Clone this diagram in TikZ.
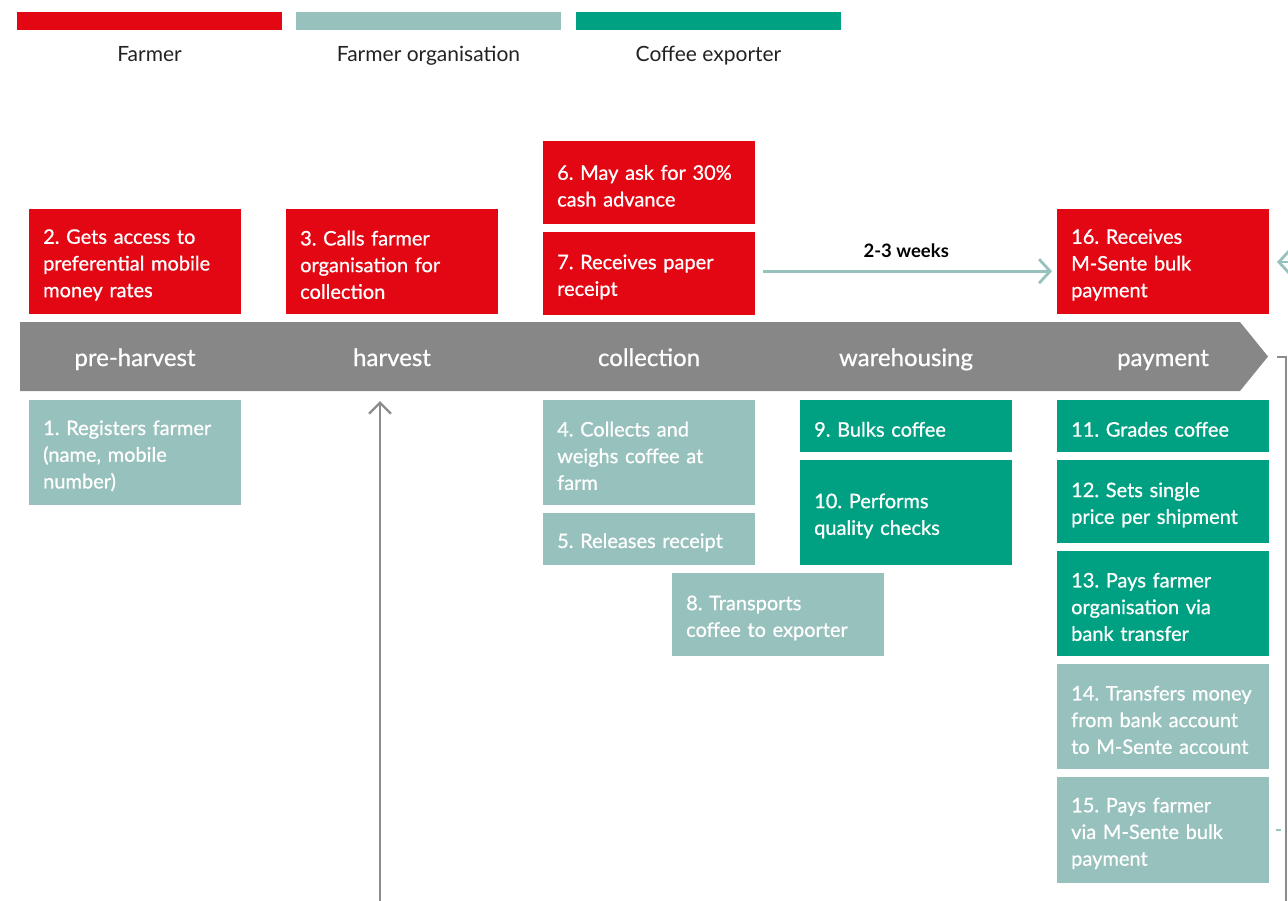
\documentclass[tikz,border=0pt]{standalone}
\usepackage{fontspec}
\setmainfont{Lato}
\newfontfamily\mediumfam{Lato}[FakeBold=0.8]
\usetikzlibrary{arrows.meta}

\definecolor{farmerred}{HTML}{E30613}
\definecolor{orgteal}{HTML}{96C1BC}
\definecolor{expgreen}{HTML}{00A182}
\definecolor{bandgrey}{HTML}{878787}
\definecolor{linegrey}{HTML}{8C8C8C}
\definecolor{legendtext}{HTML}{222222}

\newcommand\boxfont{\mediumfam\fontsize{20}{26.7}\selectfont\frenchspacing}

\tikzset{
  legbar/.style={anchor=north west, minimum width=265, minimum height=18, inner sep=0, draw=none},
  legtext/.style={anchor=base, font=\fontsize{21}{23}\selectfont, text=legendtext, inner sep=0},
  stage/.style={anchor=base, font=\mediumfam\fontsize{24}{26}\selectfont, text=white, inner sep=0},
  stepbox/.style={anchor=north west, minimum width=212, minimum height=#1,
    text width=184, inner xsep=14, inner ysep=0, align=left, text=white, font=\boxfont,
    text height=21pt},
  farmerbox/.style={stepbox=#1, fill=farmerred},
  orgbox/.style={stepbox=#1, fill=orgteal},
  expbox/.style={stepbox=#1, fill=expgreen},
  tealarrow/.style={draw=orgteal, line width=2.8pt,
    -{Straight Barb[length=11pt, width=24pt, line width=2.8pt]}},
  greyarrow/.style={draw=linegrey, line width=2.4pt,
    -{Straight Barb[length=11pt, width=22pt, line width=2.4pt]}},
  greyline/.style={draw=linegrey, line width=2pt},
}

\begin{document}
\begin{tikzpicture}[x=1pt, y=-1pt]
\useasboundingbox (0,0) rectangle (1288,900);
\clip (0,0) rectangle (1288,900);

% legend
\node[legbar, fill=farmerred] (legF) at (17,12) {};
\node[legbar, fill=orgteal]   (legO) at (296,12) {};
\node[legbar, fill=expgreen]  (legE) at (576,12) {};
\node[legtext] (legFt) at (149.5,61) {Farmer};
\node[legtext] (legOt) at (428.5,61) {Farmer organisation};
\node[legtext] (legEt) at (708.5,61) {Coffee exporter};

% stage band
\fill[bandgrey] (20,322) -- (1240,322) -- (1268,356.5) -- (1240,391) -- (20,391) -- cycle;
\node[stage] (s1) at (135,366) {pre-harvest};
\node[stage] (s2) at (392,366) {harvest};
\node[stage] (s3) at (649,366) {collection};
\node[stage] (s4) at (906,366) {warehousing};
\node[stage] (s5) at (1163,366) {payment};

% farmer steps
\node[farmerbox=105] (b2)  at (29,209)   {2. Gets access to\\preferential mobile\\money rates};
\node[farmerbox=105] (b3)  at (286,209)  {3. Calls farmer\\organisation for\\collection};
\node[farmerbox=83]  (b6)  at (543,141)  {6. May ask for 30\%\\cash advance};
\node[farmerbox=83]  (b7)  at (543,232)  {7. Receives paper\\receipt};
\node[farmerbox=105] (b16) at (1057,209) {16. Receives\\M-Sente bulk\\payment};

% farmer organisation steps
\node[orgbox=105] (b1)  at (29,400)   {1. Registers farmer\\(name, mobile\\number)};
\node[orgbox=105] (b4)  at (543,400)  {4. Collects and\\weighs coffee at\\farm};
\node[orgbox=52]  (b5)  at (543,513)  {5. Releases receipt};
\node[orgbox=83]  (b8)  at (672,573)  {8. Transports\\coffee to exporter};
\node[orgbox=105] (b14) at (1057,664) {14. Transfers money\\from bank account\\to M-Sente account};
\node[orgbox=106] (b15) at (1057,777) {15. Pays farmer\\via M-Sente bulk\\payment};

% exporter steps
\node[expbox=52]  (b9)  at (800,400)  {9. Bulks coffee};
\node[expbox=105] (b10) at (800,460)  {10. Performs\\quality checks};
\node[expbox=52]  (b11) at (1057,400) {11. Grades coffee};
\node[expbox=83]  (b12) at (1057,460) {12. Sets single\\price per shipment};
\node[expbox=105] (b13) at (1057,551) {13. Pays farmer\\organisation via\\bank transfer};

% waiting time between receipt and payment
\draw[tealarrow, shorten <=8pt, shorten >=5pt]
  ([yshift=2.5pt]b7.east) -- ([yshift=2.5pt]b7.east -| b16.west)
  node[midway, above=12pt, inner sep=0, font=\bfseries\fontsize{18.5}{20}\selectfont, text=black] {2-3 weeks};

% incoming arrow towards the payment receipt
\coordinate (rin)  at (1330,262);
\coordinate (rtip) at (1277,262);
\draw[tealarrow] (rin) -- (rtip);

% short stub beside step 15
\coordinate (stubA) at (1276,830);
\coordinate (stubB) at (1281,830);
\draw[draw=orgteal, line width=2.4pt] (stubA) -- (stubB);

% return line on the right
\coordinate (brA) at (1277,357);
\coordinate (brB) at (1285.5,357);
\coordinate (brC) at (1285.5,905);
\draw[greyline] (brA) -- (brB) -- (brC);

% arrow rising into the harvest stage
\coordinate (hfoot) at (380,905);
\coordinate (hhead) at (380,401);
\draw[greyarrow] (hfoot) -- (hhead);
\end{tikzpicture}
\end{document}
